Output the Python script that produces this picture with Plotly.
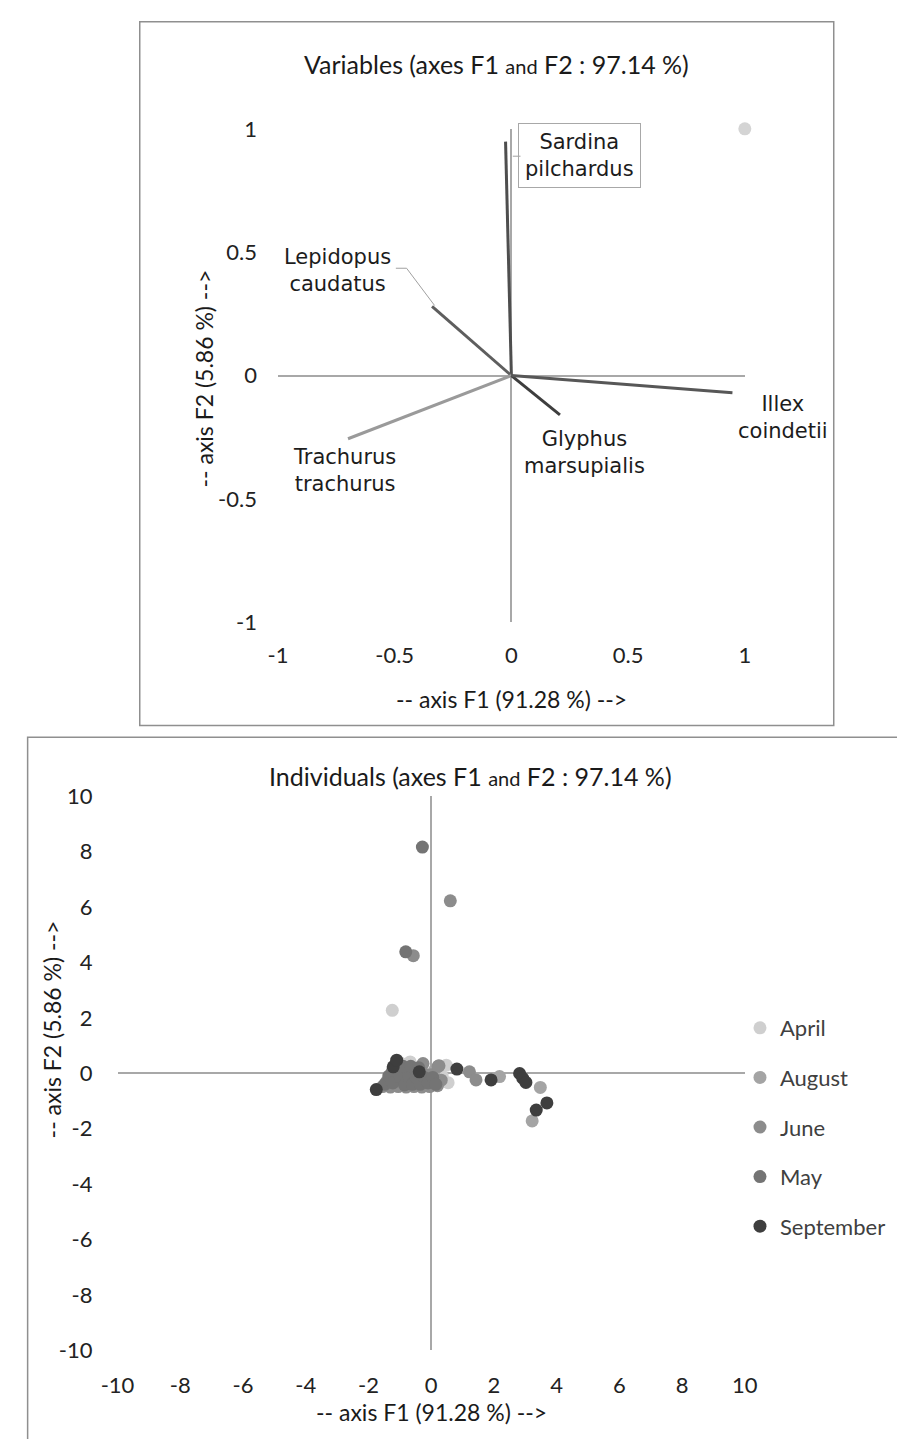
import plotly.graph_objects as go

W, H = 897, 1439

# ---------------- data: variables (correlation circle) ----------------
var_names = ["Sardina pilchardus", "Lepidopus caudatus", "Trachurus trachurus",
             "Glyphus marsupialis", "Illex coindetii"]
var_f1 = [-0.025, -0.34, -0.70, 0.208, 0.947]
var_f2 = [0.948, 0.28, -0.256, -0.159, -0.07]
var_colors = ["#4e4e4e", "#5e5e5e", "#9a9a9a", "#3e3e3e", "#575757"]
corner_x = [1]
corner_y = [1]

# ---------------- data: individuals ----------------
months = ["April", "August", "June", "May", "September"]
month_colors = ["#cfcfcf", "#a4a4a4", "#8c8c8c", "#747474", "#3e3e3e"]

april_x = [-1.24, -0.67, 0.54, 0.48, -0.95, 0.35]
april_y = [2.27, 0.41, -0.34, 0.29, 0.35, -0.10]

august_x = [2.18, 3.48, 3.22, -1.00, -0.30, 0.10]
august_y = [-0.12, -0.51, -1.72, -0.40, -0.20, 0.10]

june_x = [0.61, -0.57, 1.22, 1.43, 0.25, -0.26,
          -1.55, -1.42, -1.30, -1.18, -1.05, -0.92, -0.80, -0.68, -0.55, -0.42,
          -0.30, -0.18, -0.05, 0.08, 0.20, 0.32, -1.25, -1.00, -0.75, -0.50,
          -0.25, 0.00, 0.22]
june_y = [6.22, 4.24, 0.05, -0.24, 0.27, 0.35,
          -0.48, -0.30, -0.50, -0.20, -0.48, -0.30, -0.50, -0.28, -0.48, -0.30,
          -0.50, -0.30, -0.48, -0.30, -0.45, -0.25, 0.05, 0.10, 0.05, 0.08,
          0.00, -0.05, 0.25]

may_x = [-0.28, -0.81,
         -1.48, -1.35, -1.22, -1.12, -0.98, -0.85, -0.72, -0.60, -0.48, -0.35,
         -0.22, -0.10, 0.05, 0.15, -1.15, -0.90, -0.65, -0.40]
may_y = [8.16, 4.38,
         -0.40, -0.10, -0.35, 0.20, -0.15, -0.42, -0.12, -0.40, -0.15, -0.40,
         -0.15, -0.35, -0.15, -0.40, 0.30, 0.25, 0.25, 0.20]

sept_x = [-1.75, -1.21, -1.10, -0.38, 0.82, 1.91, 2.82, 2.92, 3.02, 3.35, 3.69]
sept_y = [-0.59, 0.23, 0.47, 0.05, 0.15, -0.24, -0.01, -0.18, -0.33, -1.33, -1.07]

month_x = [april_x, august_x, june_x, may_x, sept_x]
month_y = [april_y, august_y, june_y, may_y, sept_y]

# ---------------- tick labels ----------------
top_ticks = [-1, -0.5, 0, 0.5, 1]
top_ticktext = ["-1", "-0.5", "0", "0.5", "1"]
bot_ticks = [-10, -8, -6, -4, -2, 0, 2, 4, 6, 8, 10]
bot_ticktext = ["-10", "-8", "-6", "-4", "-2", "0", "2", "4", "6", "8", "10"]

# ---------------- figure ----------------
fig = go.Figure()

for name, fx, fy, col in zip(var_names, var_f1, var_f2, var_colors):
    fig.add_trace(go.Scatter(x=[0, fx], y=[0, fy], mode="lines",
                             line=dict(color=col, width=3),
                             xaxis="x", yaxis="y", showlegend=False,
                             hoverinfo="skip", name=name))
fig.add_trace(go.Scatter(x=corner_x, y=corner_y, mode="markers",
                         marker=dict(color="#d4d4d4", size=13),
                         xaxis="x", yaxis="y", showlegend=False, cliponaxis=False))

for i, (m, xs, ys, col) in enumerate(zip(months, month_x, month_y, month_colors)):
    fig.add_trace(go.Scatter(x=xs, y=ys, mode="markers", name=m,
                             marker=dict(color=col, size=13),
                             xaxis="x2", yaxis="y2", legendgroup=m,
                             cliponaxis=False))

def px2x(p):
    return p / W

def py2y(p):
    return 1 - p / H

tick_font = dict(family="Lato", size=22, color="#222222")
axis_common = dict(showgrid=False, showline=False, ticks="",
                   zeroline=True, zerolinecolor="#a8a8a8", zerolinewidth=1.5,
                   tickfont=tick_font)

fig.update_layout(
    width=W, height=H, autosize=False,
    margin=dict(l=0, r=0, t=0, b=0),
    paper_bgcolor="white", plot_bgcolor="white",
    xaxis=dict(domain=[px2x(270), px2x(753)], range=[-1, 1], anchor="y",
               tickvals=top_ticks, ticktext=top_ticktext,
               ticklabelstandoff=18, **axis_common),
    yaxis=dict(domain=[py2y(620), py2y(117)], range=[-1, 1], anchor="x",
               tickvals=top_ticks, ticktext=top_ticktext,
               ticklabelstandoff=20, **axis_common),
    xaxis2=dict(domain=[px2x(104), px2x(753)], range=[-10, 10], anchor="y2",
                tickvals=bot_ticks, ticktext=bot_ticktext,
                ticklabelstandoff=20, **axis_common),
    yaxis2=dict(domain=[py2y(1362), py2y(797)], range=[-10, 10], anchor="x2",
                tickvals=bot_ticks, ticktext=bot_ticktext,
                ticklabelstandoff=24, **axis_common),
    legend=dict(x=px2x(748), y=py2y(1012), xanchor="left", yanchor="top",
                font=dict(family="Lato", size=22, color="#404040"),
                tracegroupgap=18, bgcolor="rgba(0,0,0,0)"),
    showlegend=True,
)

border = dict(color="#8f8f8f", width=1.5)
fig.add_shape(type="rect", xref="paper", yref="paper",
              x0=px2x(127), x1=px2x(845), y0=py2y(725), y1=py2y(8), line=border)
fig.add_shape(type="rect", xref="paper", yref="paper",
              x0=px2x(11), x1=1.05, y0=-0.05, y1=py2y(737), line=border)

# leader lines for labels
leader = dict(color="#a0a0a0", width=1)
fig.add_shape(type="line", xref="x", yref="y", x0=0.006, y0=0.889, x1=0.039, y1=0.889, line=leader)
fig.add_shape(type="path", xref="x", yref="y",
              path="M -0.495 0.435 L -0.449 0.435 L -0.329 0.284", line=leader)

label_font = dict(family="DejaVu Sans", size=21, color="#1c1c1c")
# label centres in page pixels
label_px = {
    "Sardina pilchardus": (582, 144),
    "Lepidopus caudatus": (332, 261),
    "Trachurus trachurus": (339, 465),
    "Glyphus marsupialis": (587, 447),
    "Illex coindetii": (792, 411),
}
for name in var_names:
    lx, ly = label_px[name]
    txt = "<br>".join(name.split(" "))
    extra = {}
    if name.startswith("Sardina"):
        extra = dict(bordercolor="#a8a8a8", borderwidth=1, borderpad=6)
    fig.add_annotation(x=px2x(lx), y=py2y(ly), xref="paper", yref="paper",
                       xanchor="center", yanchor="middle",
                       text=txt, showarrow=False,
                       font=label_font, align="center", **extra)

title_font = dict(family="Lato", size=25, color="#1a1a1a")
small = "<span style='font-size:20px'>and</span>"
fig.add_annotation(x=px2x(496), y=py2y(51), xref="paper", yref="paper",
                   xanchor="center", yanchor="middle",
                   text=f"Variables (axes F1 {small} F2 : 97.14 %)",
                   showarrow=False, font=title_font)
fig.add_annotation(x=px2x(469), y=py2y(777), xref="paper", yref="paper",
                   xanchor="center", yanchor="middle",
                   text=f"Individuals (axes F1 {small} F2 : 97.14 %)",
                   showarrow=False, font=title_font)

axt_font = dict(family="Lato", size=23, color="#1a1a1a")
axis_titles = [
    ("-- axis F1 (91.28 %) -->", 512, 698, 0),
    ("-- axis F2 (5.86 %) -->", 194, 372, -90),
    ("-- axis F1 (91.28 %) -->", 429, 1425, 0),
    ("-- axis F2 (5.86 %) -->", 36, 1035, -90),
]
for txt, ax_, ay_, ang in axis_titles:
    fig.add_annotation(x=px2x(ax_), y=py2y(ay_), xref="paper", yref="paper",
                       xanchor="center", yanchor="middle",
                       text=txt, showarrow=False, font=axt_font, textangle=ang)

fig.write_html("out.html",
               post_script="document.body.style.margin='0';document.body.style.padding='0';")
